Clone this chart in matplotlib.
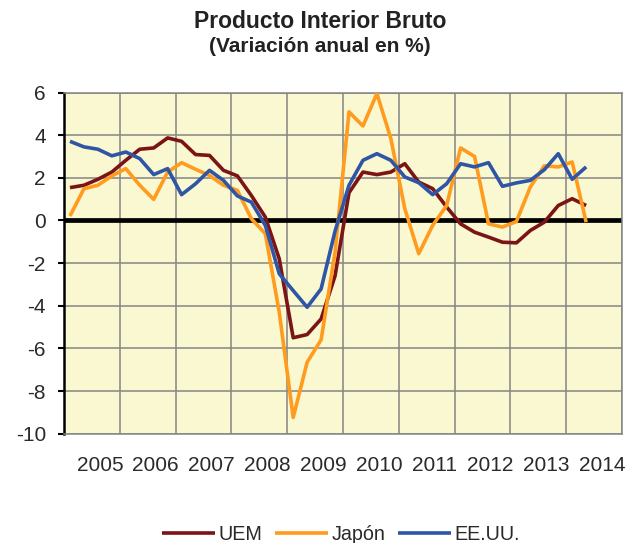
import matplotlib
matplotlib.use("Agg")
import matplotlib.pyplot as plt
import numpy as np

plt.rcParams['font.family'] = ['Liberation Sans', 'DejaVu Sans']
plt.rcParams['axes.unicode_minus'] = False

title = "Producto Interior Bruto"
subtitle = "(Variación anual en %)"
years = [2005, 2006, 2007, 2008, 2009, 2010, 2011, 2012, 2013, 2014]
series_names = ["UEM", "Japón", "EE.UU."]

# quarterly year-on-year growth, 2005 Q1 .. 2014 Q2
uem = [1.54, 1.65, 1.93, 2.27, 2.82, 3.34, 3.40, 3.87, 3.71, 3.09,
       3.05, 2.35, 2.09, 1.17, 0.16, -1.80, -5.50, -5.35, -4.62, -2.60,
       1.30, 2.27, 2.15, 2.27, 2.66, 1.80, 1.49, 0.63, -0.16, -0.55,
       -0.78, -1.02, -1.05, -0.47, -0.08, 0.70, 1.02, 0.70]
japon = [0.21, 1.49, 1.65, 2.09, 2.43, 1.65, 0.99, 2.27, 2.71, 2.40,
         2.11, 1.65, 1.41, 0.08, -0.62, -4.30, -9.24, -6.65, -5.60, -1.50,
         5.09, 4.43, 5.95, 3.84, 0.55, -1.56, -0.23, 0.70, 3.40, 3.00,
         -0.16, -0.31, -0.05, 1.57, 2.56, 2.51, 2.74, -0.08]
eeuu = [3.71, 3.45, 3.34, 3.03, 3.21, 2.90, 2.15, 2.43, 1.21, 1.72,
        2.35, 1.88, 1.15, 0.86, -0.23, -2.50, -3.29, -4.07, -3.21, -0.50,
        1.65, 2.82, 3.13, 2.82, 2.04, 1.77, 1.21, 1.72, 2.66, 2.51,
        2.71, 1.60, 1.76, 1.88, 2.38, 3.13, 1.93, 2.51]

colors = ["#7B1416", "#FF9B1E", "#2F56A6"]

W, H = 626, 543
fig = plt.figure(figsize=(W / 100, H / 100), dpi=100)
ax = fig.add_axes([64 / W, 1 - 433.7 / H, (622 - 64) / W, (433.7 - 92.5) / H])
ax.set_facecolor("#FAF8D0")

n = len(uem)
x = 2005 + (np.arange(n) + 0.43) / 4.0

for vals, c, name in zip([uem, japon, eeuu], colors, series_names):
    ax.plot(x, vals, color=c, lw=2.6, label=name, solid_joinstyle='round',
            solid_capstyle='butt', zorder=3)

ax.axhline(0, color="black", lw=3.4, zorder=2.5)

ax.set_xlim(2005, 2015)
ax.set_ylim(-10, 6)
ax.set_yticks(np.arange(-10, 7, 2))
ax.set_xticks(np.arange(2005, 2016, 1))
ax.set_xticklabels([])
ax.set_xticks(np.array(years) + 0.645, minor=True)
ax.set_xticklabels([str(y) for y in years], minor=True)
ax.tick_params(axis='x', which='both', length=0)
ax.tick_params(axis='x', which='minor', labelsize=15, pad=16, colors="#2a2a2a")
ax.tick_params(axis='y', length=4, width=1.5, direction='out', labelsize=15,
               pad=9, colors="#2a2a2a")
ax.tick_params(axis='y', color='black')

ax.grid(True, which='major', color="#858585", lw=1.1, zorder=1)
ax.set_axisbelow(True)
for s in ['top', 'right', 'bottom']:
    ax.spines[s].set_color("#858585")
    ax.spines[s].set_linewidth(1.1)
ax.spines['left'].set_color('black')
ax.spines['left'].set_linewidth(1.8)

fig.text(320 / W, 1 - 22 / H, title, ha='center', va='center',
         fontsize=16.5, fontweight='bold', color="#222222")
fig.text(320 / W, 1 - 46 / H, subtitle, ha='center', va='center',
         fontsize=15, fontweight='bold', color="#222222")

leg = fig.legend(loc='center', bbox_to_anchor=(341 / W, 9 / H), ncol=3,
                 frameon=False, fontsize=14.2, handlelength=2.7,
                 handletextpad=0.2, columnspacing=0.6, borderpad=0)
for t in leg.get_texts():
    t.set_color("#2a2a2a")

fig.savefig("out.png", dpi=100)
